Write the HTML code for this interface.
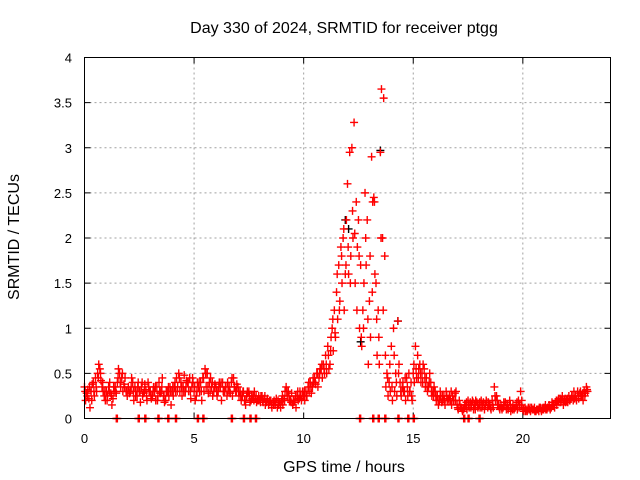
<!DOCTYPE html>
<html><head><meta charset="utf-8"><style>
html,body{margin:0;padding:0;background:#fff;}
svg{display:block;font-family:"Liberation Sans",sans-serif;}
</style></head><body>
<svg id="chart" width="640" height="480" viewBox="0 0 640 480" xmlns="http://www.w3.org/2000/svg">
<rect width="640" height="480" fill="#fff"/>
<text x="344" y="33" font-size="16" text-anchor="middle">Day 330 of 2024, SRMTID for receiver ptgg</text>
<text x="344" y="472" font-size="16" text-anchor="middle">GPS time / hours</text>
<text x="19" y="237" font-size="16" text-anchor="middle" transform="rotate(-90 19 237)">SRMTID / TECUs</text>
<g id="grid"></g><g id="ticks"></g><g id="marks"></g>
<rect x="84.5" y="57.5" width="526" height="361" fill="none" stroke="#000" stroke-width="1"/>
</svg>
<script>
const xTicks=[0,5,10,15,20];
const yTicks=[0,0.5,1,1.5,2,2.5,3,3.5,4];
const yTickLabels=["0","0.5","1","1.5","2","2.5","3","3.5","4"];
const hours=[0,0.1,0.2,0.3,0.4,0.5,0.6,0.7,0.8,0.9,1,1.1,1.2,1.3,1.4,1.5,1.6,1.7,1.8,1.9,2,2.1,2.2,2.3,2.4,2.5,2.6,2.7,2.8,2.9,3,3.1,3.2,3.3,3.4,3.5,3.6,3.7,3.8,3.9,4,4.1,4.2,4.3,4.4,4.5,4.6,4.7,4.8,4.9,5,5.1,5.2,5.3,5.4,5.5,5.6,5.7,5.8,5.9,6,6.1,6.2,6.3,6.4,6.5,6.6,6.7,6.8,6.9,7,7.1,7.2,7.3,7.4,7.5,7.6,7.7,7.8,7.9,8,8.1,8.2,8.3,8.4,8.5,8.6,8.7,8.8,8.9,9,9.1,9.2,9.3,9.4,9.5,9.6,9.7,9.8,9.9,10,10.1,10.2,10.3,10.4,10.5,10.6,10.7,10.8,10.9,11,11.1,11.2,11.3,11.4,11.5,11.6,11.7,11.8,11.9,12,12.1,12.2,12.3,12.4,12.5,12.6,12.7,12.8,12.9,13,13.1,13.2,13.3,13.4,13.5,13.6,13.7,13.8,13.9,14,14.1,14.2,14.3,14.4,14.5,14.6,14.7,14.8,14.9,15,15.1,15.2,15.3,15.4,15.5,15.6,15.7,15.8,15.9,16,16.1,16.2,16.3,16.4,16.5,16.6,16.7,16.8,16.9,17,17.1,17.2,17.3,17.4,17.5,17.6,17.7,17.8,17.9,18,18.1,18.2,18.3,18.4,18.5,18.6,18.7,18.8,18.9,19,19.1,19.2,19.3,19.4,19.5,19.6,19.7,19.8,19.9,20,20.1,20.2,20.3,20.4,20.5,20.6,20.7,20.8,20.9,21,21.1,21.2,21.3,21.4,21.5,21.6,21.7,21.8,21.9,22,22.1,22.2,22.3,22.4,22.5,22.6,22.7,22.8,22.9];
const redA=[.35,.28,.22,.3,.4,.45,.5,.55,.35,.25, .3,.35,.28,.22,.35,.4,.5,.45,.38,.3, .35,.3,.4,.35,.25,.3,.35,.28,.32,.4, .3,.25,.3,.35,.4,.3,.25,.2,.3,.35, .3,.35,.45,.5,.4,.35,.3,.4,.45,.35, .3,.25,.35,.4,.45,.55,.5,.4,.35,.3, .35,.3,.35,.4,.3,.25,.35,.4,.45,.3, .35,.3,.25,.2,.25,.3,.2,.25,.22,.2, .2,.25,.22,.18,.15,.2,.18,.15,.12,.18, .2,.22,.35,.3,.2,.15,.2,.25,.22,.2, .25,.3,.35,.4,.35,.45,.5,.45,.55,.6, .7,.8,.6,1.0,1.2,1.4,1.7,1.9,2.0,1.6, 2.6,2.95,3.0,3.28,2.4,2.2,1.7,1.2,2.5,2.2, 1.3,2.9,2.45,1.5,1.2,2.95,2.0,1.8,.5,.4, .8,1.0,.5,1.08,.4,.35,.3,.45,.5,.4, .5,.8,.7,.6,.5,.55,.45,.35,.4,.3, .3,.25,.2,.18,.25,.3,.22,.2,.25,.28, .15,.2,.12,.1,.15,.2,.18,.2,.15,.18, .15,.2,.18,.15,.12,.15,.2,.35,.25,.15, .15,.12,.18,.15,.2,.12,.1,.15,.2,.3, .1,.12,.08,.1,.12,.1,.08,.1,.12,.1, .12,.1,.15,.12,.15,.18,.2,.22,.25,.2, .2,.25,.22,.2,.25,.3,.28,.25,.3,.35];
const redB=[.2,.32,.12,.38,.25,.3,.6,.42,.3,.2, .25,.4,.15,.3,.28,.55,.35,.3,.45,.25, .28,.45,.2,.3,.4,.18,.25,.38,.2,.3, .22,.35,.2,.25,.28,.45,.18,.3,.25,.15, .25,.3,.35,.3,.25,.48,.42,.3,.22,.4, .2,.4,.3,.2,.3,.35,.28,.45,.25,.38, .25,.4,.2,.3,.35,.3,.28,.25,.35,.38, .25,.2,.3,.15,.28,.18,.22,.3,.18,.25, .25,.18,.15,.22,.2,.12,.2,.22,.15,.12, .15,.3,.25,.2,.28,.18,.12,.2,.25,.3, .2,.25,.3,.28,.4,.38,.35,.55,.45,.5, .5,.55,.9,.75,.9,1.1,1.3,1.5,1.2,2.2, 1.6,1.8,2.0,1.5,1.9,1.0,.8,1.5,1.7,.6, .9,2.4,1.6,.7,.6,3.65,3.55,.35,.25,.3, .2,.3,.25,.6,.25,.3,.2,.25,.3,.2, .4,.45,.55,.4,.6,.35,.3,.5,.25,.35, .2,.15,.25,.2,.15,.2,.25,.15,.2,.3, .1,.12,.08,.15,.1,.12,.15,.1,.2,.12, .12,.15,.1,.18,.15,.1,.12,.2,.15,.1, .1,.15,.1,.12,.08,.15,.12,.1,.15,.2, .08,.1,.12,.08,.1,.08,.1,.12,.08,.1, .1,.12,.1,.15,.12,.15,.18,.2,.15,.18, .18,.2,.25,.22,.2,.22,.25,.2,.28,.3];
const redC=[.3,.25,.35,.2,.3,.35,.45,.5,.4,.3, .2,.3,.25,.35,.3,.45,.4,.5,.35,.3, .3,.35,.3,.25,.35,.3,.4,.3,.25,.35, .25,.3,.35,.2,.3,.35,.25,.3,.35,.3, .35,.4,.3,.45,.35,.3,.35,.4,.3,.45, .35,.3,.4,.3,.45,.5,.35,.3,.4,.35, .3,.35,.4,.3,.35,.4,.3,.45,.35,.3, .3,.25,.3,.2,.3,.25,.25,.2,.25,.2, .18,.2,.25,.2,.18,.15,.15,.18,.2,.15, .25,.2,.3,.25,.18,.2,.25,.3,.3,.25, .3,.25,.4,.35,.45,.4,.5,.5,.6,.55, .6,.7,.75,1.1,.95,1.6,1.2,1.8,2.1,1.7, 1.9,1.5,2.3,2.05,1.2,1.8,.9,1.0,2.0,1.1, 1.8,1.4,2.4,1.1,.9,2.0,1.2,.7,.45,.6, .35,.7,.4,.5,.3,.4,.45,.35,.3,.25, .6,.55,.45,.5,.4,.45,.35,.4,.3,.25, .25,.2,.3,.25,.2,.25,.2,.3,.2,.2, .12,.15,.1,.12,.18,.15,.12,.18,.1,.15, .18,.12,.15,.2,.18,.12,.15,.25,.2,.12, .12,.18,.15,.1,.15,.1,.12,.18,.12,.15, .1,.08,.1,.12,.1,.12,.1,.08,.1,.12, .15,.12,.12,.18,.15,.2,.22,.18,.2,.22, .22,.2,.25,.3,.22,.25,.3,.28,.25,.32];
const zeroTimes=[1.45,2.45,2.75,3.35,3.8,4.15,5.15,5.4,6.7,7.25,7.55,7.8,12.55,13.15,13.4,13.7,14.3,14.75,15.0,17.3,17.5,18.0];
const blackTimes=[11.9,12.05,13.5,14.3,12.6];
const blackValues=[2.2,2.1,2.97,1.08,0.85];

const NS="http://www.w3.org/2000/svg";
const X0=84.5,X1=610.5,Y0=418.5,Y1=57.5;
const xs=t=>X0+(t/24)*(X1-X0);
const ys=v=>Y0-(v/4)*(Y0-Y1);
function mk(tag,attrs,parent){const e=document.createElementNS(NS,tag);for(const k in attrs)e.setAttribute(k,attrs[k]);parent.appendChild(e);return e;}
const grid=document.getElementById('grid'),ticks=document.getElementById('ticks'),marks=document.getElementById('marks');
xTicks.forEach(t=>{const x=xs(t);
 if(t>0){const g=mk('line',{x1:x,x2:x,y1:Y1,y2:Y0,stroke:'#a0a0a0','stroke-dasharray':'2,3'},grid);
 
 }
 mk('line',{x1:x,x2:x,y1:Y0,y2:Y0-6,stroke:'#000'},ticks);
 mk('line',{x1:x,x2:x,y1:Y1,y2:Y1+6,stroke:'#000'},ticks);
 const l=mk('text',{x:x,y:443,'font-size':13,'text-anchor':'middle'},ticks);l.textContent=t;
 
 
});
yTicks.forEach((v,i)=>{const y=ys(v);
 if(v>0&&v<4){const g=mk('line',{x1:X0,x2:X1,y1:y,y2:y,stroke:'#a0a0a0','stroke-dasharray':'2,3'},grid);
 
 }
 mk('line',{x1:X0,x2:X0+6,y1:y,y2:y,stroke:'#000'},ticks);
 mk('line',{x1:X1,x2:X1-6,y1:y,y2:y,stroke:'#000'},ticks);
 const l=mk('text',{x:72,y:y+5,'font-size':13,'text-anchor':'end'},ticks);l.textContent=yTickLabels[i];
 
 
});
function plus(t,v,color,name){const x=xs(t),y=ys(v);
 const p=mk('path',{d:`M${x-4},${y}H${x+4}M${x},${y-4}V${y+4}`,stroke:color,'stroke-width':1.4,fill:'none'},marks);
 
 }
blackTimes.forEach((t,i)=>plus(t,blackValues[i],'#000','black-point'));
hours.forEach((t,i)=>plus(t,redA[i],'#ff0000','red-point'));
hours.forEach((t,i)=>plus(t+0.05,redB[i],'#ff0000','red-point'));
hours.forEach((t,i)=>plus(t+0.03,redC[i],'#ff0000','red-point'));
zeroTimes.forEach(t=>{plus(t,0,'#ff0000','zero-point');plus(t+0.05,0,'#ff0000','zero-point');});
</script>
</body></html>
